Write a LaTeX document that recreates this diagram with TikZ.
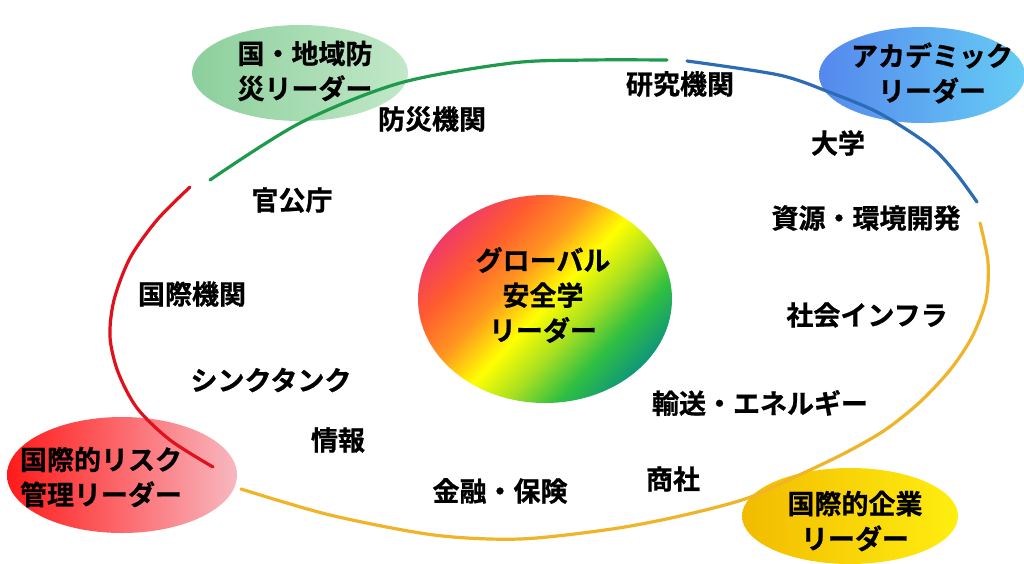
\documentclass[tikz,border=0pt]{standalone}
\usepackage{fontspec}
\newfontfamily\jp{Noto Sans CJK JP}[BoldFont={Noto Sans CJK JP Bold},BoldFeatures={FakeBold=0.8}]
\usetikzlibrary{shapes.geometric,shadings}
\definecolor{cR}{HTML}{F03C64}
\definecolor{cO1}{HTML}{FF5A30}
\definecolor{cO2}{HTML}{FF9420}
\definecolor{cY}{HTML}{FFFF00}
\definecolor{cYG}{HTML}{A8E020}
\definecolor{cG}{HTML}{30C040}
\definecolor{cT}{HTML}{109878}
\pgfdeclarehorizontalshading{globalsh}{100bp}{color(0bp)=(cR); color(25bp)=(cR); color(33bp)=(cO1); color(42bp)=(cO2); color(51bp)=(cY); color(59bp)=(cYG); color(67bp)=(cG); color(75bp)=(cT); color(100bp)=(cT)}
\definecolor{arcG}{HTML}{1E9A4C}
\definecolor{arcB}{HTML}{2C6CB4}
\definecolor{arcO}{HTML}{F0B428}
\definecolor{arcR}{HTML}{E0101C}
\definecolor{gL}{HTML}{8CCF9C}
\definecolor{gRt}{HTML}{C2E8C8}
\definecolor{bL}{HTML}{5588EE}
\definecolor{bRt}{HTML}{66CCF4}
\definecolor{rL}{HTML}{FF1A1A}
\definecolor{rRt}{HTML}{F8B8C0}
\definecolor{yL}{HTML}{F2BB00}
\definecolor{yRt}{HTML}{FFEE10}
\begin{document}
\begin{tikzpicture}[x=1pt,y=-1pt,
  lbl/.style={font={\jp\bfseries\fontsize{27}{35}\selectfont}, text=black, inner sep=0pt, align=center},
  blob/.style={ellipse, inner sep=0pt, draw=none},
  ring/.style={line width=3.2pt, line cap=round}]
\useasboundingbox (0,0) rectangle (1024,563);
\fill[white] (0,0) rectangle (1024,563);
% leader blobs
\node[blob, minimum width=216pt, minimum height=96pt, left color=gL, right color=gRt] (gE) at (300,73) {};
\node[blob, minimum width=206pt, minimum height=96pt, left color=bL, right color=bRt] (bE) at (922,75) {};
\node[blob, minimum width=230pt, minimum height=116pt, left color=rL, right color=rRt] (rE) at (122,475) {};
\node[blob, minimum width=216pt, minimum height=96pt, left color=yL, right color=yRt] (yE) at (850,516) {};
% outer ring arcs
\draw[ring, draw=arcR] plot[smooth] coordinates {(190,187) (157,220) (130,258) (114,300) (110,337) (118,372) (137,408) (170,440) (213,467)};
\draw[ring, draw=arcG] plot[smooth] coordinates {(210,180) (300,123) (400,83) (512,63) (590,60) (667,60)};
\draw[ring, draw=arcB] plot[smooth] coordinates {(687,61) (779,75) (829,92) (879,113) (929,145) (955,172) (977,202)};
\draw[ring, draw=arcO] plot[smooth] coordinates {(980,223) (988,262) (986,300) (972,337) (950,370) (920,402) (885,430) (845,453) (795,477) (745,499) (680,516) (612,529) (520,539) (434,535) (330,515) (241,489)};
% centre
\node[blob, minimum width=254pt, minimum height=208pt, shading=globalsh, shading angle=-43] (core) at (545,299) {};
% texts
\node[lbl] (gT) at (305,71) {国・地域防\\災リーダー};
\node[lbl] (bT) at (932,73) {アカデミック\\リーダー};
\node[lbl] (rT) at (101,477) {国際的リスク\\管理リーダー};
\node[lbl] (yT) at (855,521) {国際的企業\\リーダー};
\node[lbl] (cT) at (543,295) {グローバル\\安全学\\リーダー};
\node[lbl] (l1) at (680,84) {研究機関};
\node[lbl] (l2) at (432,119) {防災機関};
\node[lbl] (l3) at (838,143) {大学};
\node[lbl] (l4) at (866,218) {資源・環境開発};
\node[lbl] (l5) at (292,200) {官公庁};
\node[lbl] (l6) at (192,294) {国際機関};
\node[lbl] (l7) at (271,380) {シンクタンク};
\node[lbl] (l8) at (338,440) {情報};
\node[lbl] (l9) at (500,491) {金融・保険};
\node[lbl] (l10) at (673,479) {商社};
\node[lbl] (l11) at (760,403) {輸送・エネルギー};
\node[lbl] (l12) at (867,315) {社会インフラ};
\end{tikzpicture}
\end{document}
